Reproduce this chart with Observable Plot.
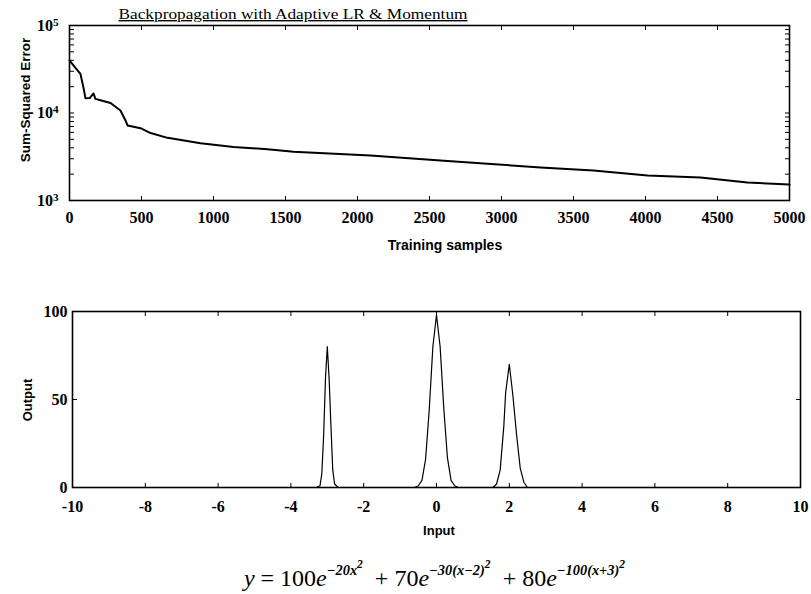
<!DOCTYPE html>
<html><head><meta charset="utf-8">
<script src="https://cdn.jsdelivr.net/npm/d3@7"></script>
<script src="https://cdn.jsdelivr.net/npm/@observablehq/plot@0.6"></script>
<style>
body{margin:0;background:#fff;}
#wrap{position:relative;width:811px;height:594px;overflow:hidden;background:#fff;}
#top,#bot{position:absolute;left:0;}
#top{top:0}
#bot{top:260px}
#formula{position:absolute;left:0;width:811px;top:549px;text-align:center;font-family:"Liberation Serif","Times New Roman",serif;font-size:24px;line-height:30px;color:#000;padding-left:58px;box-sizing:border-box;}
#formula sup{font-size:0.6em;font-weight:bold;font-style:italic;vertical-align:0.75em;}
#formula sup sup{font-size:0.8em;vertical-align:0.6em;}
</style></head><body>
<div id="wrap"><div id="top"></div><div id="bot"></div>
<div id="formula"><i>y</i> = 100<i>e</i><sup>−20x<sup>2</sup></sup> &nbsp;+ 70<i>e</i><sup>−30(x−2)<sup>2</sup></sup> &nbsp;+ 80<i>e</i><sup>−100(x+3)<sup>2</sup></sup></div>
</div>
<script>
// ---- Top chart data ----
const titleTop = "Backpropagation with Adaptive LR & Momentum";
const xLabelTop = "Training samples";
const yLabelTop = "Sum-Squared Error";
const samples = [0, 40, 76, 97, 111, 140, 167, 180, 215, 285, 354, 389, 403, 493, 563, 681, 910, 1139, 1375, 1556, 2090, 2576, 2903, 3271, 3639, 4014, 4382, 4708, 5000];
const sse =     [40000, 33000, 28000, 19500, 14700, 14800, 16700, 14500, 14000, 13000, 10700, 8200, 7200, 6700, 5900, 5200, 4500, 4100, 3850, 3600, 3270, 2870, 2630, 2380, 2200, 1930, 1830, 1610, 1520];
const xTicksTop = [0, 500, 1000, 1500, 2000, 2500, 3000, 3500, 4000, 4500, 5000];
const yMajorTop = [1000, 10000, 100000];
const yMinorTop = [1000, 2000, 3000, 4000, 5000, 6000, 7000, 8000, 9000, 10000, 20000, 30000, 40000, 50000, 60000, 70000, 80000, 90000, 100000];

// ---- Bottom chart data ----
const xLabelBot = "Input";
const yLabelBot = "Output";
const inputX =  [-10, -3.3, -3.2, -3.15, -3.1, -3.05, -3.0, -2.95, -2.9, -2.85, -2.8, -2.7, -0.6, -0.5, -0.4, -0.3, -0.2, -0.1, 0, 0.1, 0.2, 0.3, 0.4, 0.5, 0.6, 1.55, 1.65, 1.75, 1.85, 1.9, 2.0, 2.1, 2.2, 2.3, 2.4, 2.5, 10];
const outputY = [0, 0, 1, 8, 30, 62, 80, 62, 35, 10, 2, 0, 0, 1, 4, 16, 44, 80, 98, 80, 45, 17, 4, 1, 0, 0, 2, 10, 35, 54, 70, 52, 30, 11, 3, 0, 0];
const xTicksBot = [-10, -8, -6, -4, -2, 0, 2, 4, 6, 8, 10];
const yTicksBot = [0, 50, 100];

const serif = "'Liberation Serif','Times New Roman',serif";
const sans = "'Liberation Sans',Arial,Helvetica,sans-serif";
const blank = () => "";

function cleanLabels(svg) {
  d3.select(svg).selectAll('g[aria-label$="tick label"] text').each(function() {
    if (this.textContent === "") this.remove();
  });
}

const topData = samples.map((s, i) => ({s, e: sse[i]}));
const p1 = Plot.plot({
  width: 811, height: 260,
  marginLeft: 69, marginRight: 22, marginTop: 25, marginBottom: 60,
  x: {domain: [0, 5000]},
  y: {type: "log", domain: [1000, 100000]},
  style: {fontFamily: serif, fontSize: "16px", fontWeight: "bold", color: "#000", background: "#fff"},
  marks: [
    Plot.frame({stroke: "#000", strokeWidth: 1.6}),
    Plot.axisX(xTicksTop, {anchor: "bottom", tickSize: 0, tickPadding: 11, label: null, tickFormat: d => String(d)}),
    Plot.axisX(xTicksTop, {anchor: "bottom", tickSize: -4, tickFormat: blank, label: null}),
    Plot.axisX(xTicksTop, {anchor: "top", tickSize: -4, tickFormat: blank, label: null}),
    Plot.axisY(yMajorTop, {anchor: "left", tickSize: 0, tickPadding: 11, label: null, tickFormat: d => String(Math.round(Math.log10(d)))}),
    Plot.axisY(yMinorTop, {anchor: "left", tickSize: -5, tickFormat: blank, label: null}),
    Plot.axisY(yMinorTop, {anchor: "right", tickSize: -5, tickFormat: blank, label: null}),
    Plot.line(topData, {x: "s", y: "e", stroke: "#000", strokeWidth: 2})
  ]
});
document.getElementById("top").appendChild(p1);
cleanLabels(p1);

// superscript exponents for log labels
d3.select(p1).selectAll('g[aria-label="y-axis tick label"] text').each(function() {
  const ex = this.textContent;
  if (!ex) return;
  this.textContent = "";
  const t = d3.select(this);
  t.append("tspan").text("10");
  t.append("tspan").attr("dy", "-0.45em").attr("font-size", "0.7em").text(ex);
});
const s1 = d3.select(p1);
s1.append("text").attr("x", 293).attr("y", 19).attr("font-family", serif).attr("font-size", 14)
  .attr("font-weight", "normal").attr("textLength", 349).attr("lengthAdjust", "spacingAndGlyphs")
  .attr("text-decoration", "underline").attr("fill", "#000").text(titleTop);
s1.append("text").attr("x", 445).attr("y", 250).attr("text-anchor", "middle").attr("font-family", sans)
  .attr("font-size", 14).attr("font-weight", "bold").attr("fill", "#000").text(xLabelTop);
s1.append("text").attr("transform", "translate(30,100) rotate(-90)").attr("text-anchor", "middle")
  .attr("font-family", sans).attr("font-size", 13.5).attr("font-weight", "bold").attr("fill", "#000").text(yLabelTop);

const botData = inputX.map((x, i) => ({x, y: outputY[i]}));
const p2 = Plot.plot({
  width: 811, height: 290,
  marginLeft: 72, marginRight: 11, marginTop: 51, marginBottom: 63,
  x: {domain: [-10, 10]},
  y: {domain: [0, 100]},
  style: {fontFamily: serif, fontSize: "16px", fontWeight: "bold", color: "#000", background: "#fff"},
  marks: [
    Plot.frame({stroke: "#000", strokeWidth: 1.6}),
    Plot.axisX(xTicksBot, {anchor: "bottom", tickSize: 0, tickPadding: 13, label: null, tickFormat: d => String(d)}),
    Plot.axisX(xTicksBot, {anchor: "bottom", tickSize: -4, tickFormat: blank, label: null}),
    Plot.axisX(xTicksBot, {anchor: "top", tickSize: -4, tickFormat: blank, label: null}),
    Plot.axisY(yTicksBot, {anchor: "left", tickSize: 0, tickPadding: 5, dy: 0, label: null, tickFormat: d => String(d)}),
    Plot.axisY(yTicksBot, {anchor: "left", tickSize: -5, tickFormat: blank, label: null}),
    Plot.axisY(yTicksBot, {anchor: "right", tickSize: -5, tickFormat: blank, label: null}),
    Plot.line(botData, {x: "x", y: "y", stroke: "#000", strokeWidth: 1.2})
  ]
});
document.getElementById("bot").appendChild(p2);
cleanLabels(p2);
const s2 = d3.select(p2);
s2.append("text").attr("x", 439).attr("y", 275).attr("text-anchor", "middle").attr("font-family", sans)
  .attr("font-size", 13).attr("font-weight", "bold").attr("fill", "#000").text(xLabelBot);
s2.append("text").attr("transform", "translate(32,140) rotate(-90)").attr("text-anchor", "middle")
  .attr("font-family", sans).attr("font-size", 13).attr("font-weight", "bold").attr("fill", "#000").text(yLabelBot);
</script>
</body></html>
